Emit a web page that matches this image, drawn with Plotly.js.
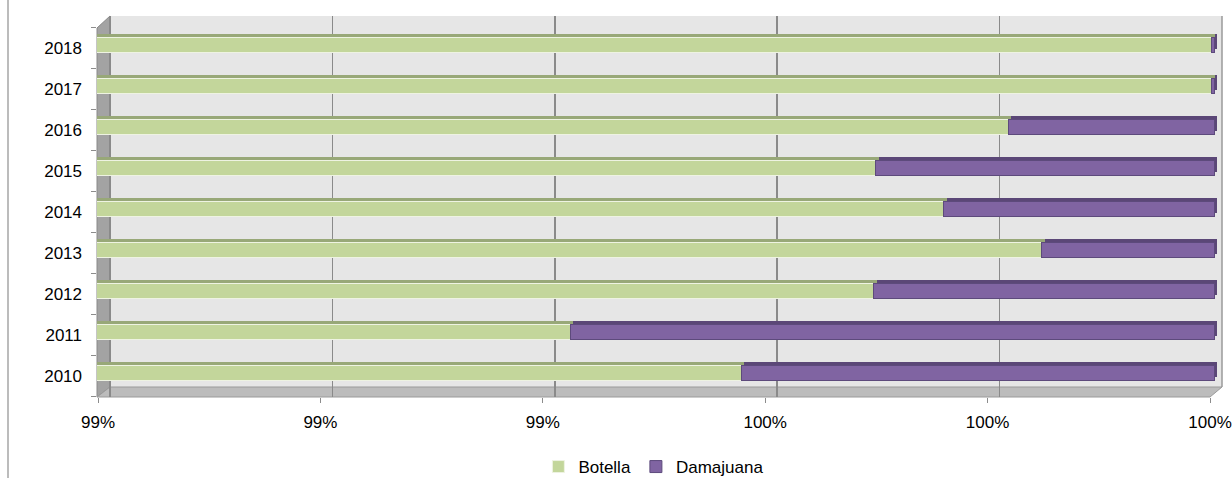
<!DOCTYPE html>
<html>
<head>
<meta charset="utf-8">
<script src="https://cdn.plot.ly/plotly-3.0.1.min.js"></script>
<style>
  html, body { margin: 0; padding: 0; background: #ffffff; }
  #chart { width: 1232px; height: 478px; }
</style>
</head>
<body>
<div id="chart"></div>
<script>
// ---- data (percent of total volume) ----
const years = ['2010', '2011', '2012', '2013', '2014', '2015', '2016', '2017', '2018'];
const botella = [99.575, 99.421, 99.694, 99.845, 99.757, 99.696, 99.815, 99.998, 99.998];
const damajuana = [0.425, 0.579, 0.306, 0.155, 0.243, 0.304, 0.185, 0.002, 0.002];
const seriesNames = ['Botella', 'Damajuana'];

// ---- styling / geometry ----
const W = 1232, H = 478;
const P = { l: 97, r: 1222, t: 16, b: 397 };
const plotW = P.r - P.l, plotH = P.b - P.t;
const pxPerPct = 1112;       // pixels per 1 % on the value axis
const pxPerCat = 41;         // pixels per category row
const xMin = 99;             // value drawn at the left edge of each plane
function px(x) { return (x - P.l) / plotW; }
function py(y) { return (P.b - y) / plotH; }
function xRange(originPx) {
  const lo = xMin - (originPx - P.l) / pxPerPct;
  return [lo, lo + plotW / pxPerPct];
}
function yRange(firstCenterPx) {
  const lo = -(P.b - firstCenterPx) / pxPerCat;
  return [lo, lo + plotH / pxPerCat];
}
const FONT = 'Liberation Sans, Arial, sans-serif';
const green = '#c3d69b', greenTop = '#98a878';
const purple = '#8064a2', purpleTop = '#5b4777';
const clear = 'rgba(0,0,0,0)';
const barGap = 0.634;

function ghost(xa, ya) {
  return { type: 'bar', orientation: 'h', x: botella, y: years, xaxis: xa, yaxis: ya,
           marker: { color: clear, line: { width: 0 } }, showlegend: false, hoverinfo: 'skip' };
}

const traces = [
  ghost('x', 'y'),     // carries the back-wall grid and the year labels
  ghost('x2', 'y'),    // carries the front value axis labels
  // depth (top/side faces) drawn behind
  { type: 'bar', orientation: 'h', x: botella, y: years, xaxis: 'x3', yaxis: 'y3',
    marker: { color: greenTop, line: { width: 0 } }, showlegend: false, hoverinfo: 'skip' },
  { type: 'bar', orientation: 'h', x: damajuana, y: years, xaxis: 'x3', yaxis: 'y3',
    marker: { color: purpleTop, line: { width: 0 } }, showlegend: false, hoverinfo: 'skip' },
  // front faces
  { type: 'bar', orientation: 'h', name: seriesNames[0], x: botella, y: years, xaxis: 'x4', yaxis: 'y4',
    marker: { color: green, line: { color: '#eef3e2', width: 1 } } },
  { type: 'bar', orientation: 'h', name: seriesNames[1], x: damajuana, y: years, xaxis: 'x4', yaxis: 'y4',
    marker: { color: purple, line: { color: '#5d4a7c', width: 1 } } }
];

const hidden = { visible: false, fixedrange: true };

const layout = {
  width: W, height: H, autosize: false,
  margin: { l: P.l, r: W - P.r, t: P.t, b: H - P.b, pad: 0, autoexpand: false },
  paper_bgcolor: '#ffffff', plot_bgcolor: 'rgba(0,0,0,0)',
  font: { family: FONT, size: 17, color: '#000000' },
  barmode: 'stack', bargap: barGap,
  showlegend: true,
  legend: { orientation: 'h', x: 0.495, xanchor: 'center', yref: 'container', y: 1 - 467 / H, yanchor: 'middle',
            font: { family: FONT, size: 17, color: '#000000' }, itemwidth: 30,
            traceorder: 'normal', bgcolor: clear },
  // back wall grid axis
  xaxis: { domain: [0, 1], range: xRange(110), tick0: 99, dtick: 0.2, showgrid: true,
           gridcolor: '#8a8a8a', gridwidth: 1.5, showticklabels: false, ticks: '',
           zeroline: false, showline: false, fixedrange: true, anchor: 'y' },
  // year labels (front plane)
  yaxis: { domain: [0, 1], type: 'category', range: yRange(376), anchor: 'x',
           ticks: 'outside', tickson: 'boundaries', ticklen: 5, tickcolor: '#8c8c8c',
           ticklabelstandoff: 14,
           showgrid: false, zeroline: false, showline: false, fixedrange: true,
           tickfont: { family: FONT, size: 17, color: '#000000' } },
  // front value axis with labels
  xaxis2: { overlaying: 'x', anchor: 'y', side: 'bottom', range: xRange(98), tick0: 99, dtick: 0.2,
            tickformat: '.0f', ticksuffix: '%', ticks: 'outside', ticklen: 5, tickcolor: '#8c8c8c',
            ticklabelstandoff: 5,
            showgrid: false, zeroline: false, showline: false, fixedrange: true,
            tickfont: { family: FONT, size: 17, color: '#000000' } },
  // depth faces
  xaxis3: Object.assign({ overlaying: 'x', anchor: 'y3', range: xRange(105) }, hidden),
  yaxis3: Object.assign({ overlaying: 'y', anchor: 'x3', type: 'category', range: yRange(373 - 4) }, hidden),
  // front faces
  xaxis4: Object.assign({ overlaying: 'x', anchor: 'y4', range: xRange(102) }, hidden),
  yaxis4: Object.assign({ overlaying: 'y', anchor: 'x4', type: 'category', range: yRange(373) }, hidden),
  shapes: [
    // back wall
    { type: 'rect', xref: 'paper', yref: 'paper', x0: px(110), x1: 1, y0: py(387), y1: 1,
      fillcolor: '#e6e6e6', line: { width: 0 }, layer: 'below' },
    // left wall
    { type: 'path', xref: 'paper', yref: 'paper', layer: 'below',
      path: `M 0 ${py(28)} L ${px(110)} 1 L ${px(110)} ${py(387)} L 0 0 Z`,
      fillcolor: '#a3a3a3', line: { color: '#8a8a8a', width: 1 } },
    // floor
    { type: 'path', xref: 'paper', yref: 'paper', layer: 'between',
      path: `M 0 0 L ${px(110)} ${py(387)} L 1 ${py(387)} L ${px(1210)} 0 Z`,
      fillcolor: '#bcbcbc', line: { color: '#9a9a9a', width: 1 } },
    // right edge of back wall
    { type: 'line', xref: 'paper', yref: 'paper', x0: 1, x1: 1, y0: py(387), y1: 1,
      line: { color: '#9a9a9a', width: 1.5 }, layer: 'below' },
    // chart frame left border
    { type: 'line', xref: 'paper', yref: 'paper', x0: px(8), x1: px(8), y0: py(H), y1: py(0),
      line: { color: '#a6a6a6', width: 1.5 } }
  ]
};

Plotly.newPlot('chart', traces, layout, { displayModeBar: false, staticPlot: true });
</script>
</body>
</html>
